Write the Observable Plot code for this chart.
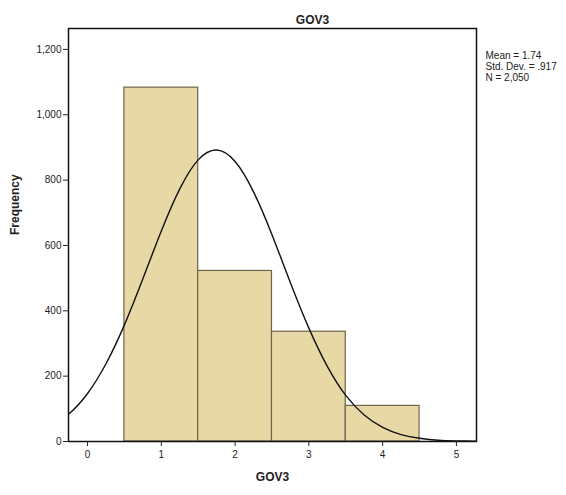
<!DOCTYPE html>
<html>
<head>
<meta charset="utf-8">
<script src="https://cdn.jsdelivr.net/npm/d3@7"></script>
<script src="https://cdn.jsdelivr.net/npm/@observablehq/plot@0.6"></script>
<style>
  html, body { margin: 0; padding: 0; background: #fff; }
  #chart { width: 566px; height: 495px; }
</style>
</head>
<body>
<div id="chart"></div>
<script>
// Histogram bins (centres) and frequencies
const binCenters = [1, 2, 3, 4];
const frequencies = [1083, 522, 336, 109];
const binWidth = 1;

// Normal curve
const curveX = [-0.5, -0.25, 0, 0.25, 0.5, 0.75, 1, 1.25, 1.5, 1.75, 2, 2.25, 2.5, 2.75, 3, 3.25, 3.5, 3.75, 4, 4.25, 4.5, 4.75, 5, 5.25, 5.5];
const curveY = [46, 85, 147, 238, 357, 498, 644, 773, 862, 892, 857, 764, 633, 486, 347, 230, 141, 81, 43, 21, 10, 4, 2, 1, 0];

const xTicks = [0, 1, 2, 3, 4, 5];
const yTicks = [0, 200, 400, 600, 800, 1000, 1200];

const title = "GOV3";
const xLabel = "GOV3";
const yLabel = "Frequency";
const statsLines = ["Mean = 1.74", "Std. Dev. = .917", "N = 2,050"];

const bars = binCenters.map((c, i) => ({x1: c - binWidth / 2, x2: c + binWidth / 2, y: frequencies[i]}));
const curve = curveX.map((x, i) => ({x, y: curveY[i]}));

const font = "'Liberation Sans', Arial, sans-serif";

const chart = Plot.plot({
  width: 566,
  height: 495,
  marginLeft: 68,
  marginRight: 90,
  marginTop: 28,
  marginBottom: 54,
  style: {fontFamily: font, fontSize: "10px", color: "#222", background: "#fff"},
  x: {domain: [-0.258, 5.272], ticks: xTicks, tickSize: 5, tickFormat: d => d, label: null},
  y: {domain: [0, 1264], ticks: yTicks, tickSize: 5, tickFormat: d3.format(","), label: null},
  marks: [
    Plot.rectY(bars, {x1: "x1", x2: "x2", y1: 0, y2: "y", fill: "#e8d8a6", stroke: "#6e6448", strokeWidth: 1.2}),
    Plot.line(curve, {x: "x", y: "y", curve: "natural", stroke: "#111", strokeWidth: 1.4, clip: true}),
    Plot.frame({stroke: "#111", strokeWidth: 1.5}),
    Plot.axisX({ticks: xTicks, tickSize: 5, tickPadding: 4, tickFormat: d => d, label: null, fontSize: 10}),
    Plot.axisY({ticks: yTicks, tickSize: 5, tickPadding: 2, tickFormat: d3.format(","), label: null, fontSize: 10}),
    Plot.text([title], {frameAnchor: "top", dx: 40, dy: -13, fontWeight: "bold", fontSize: 12, text: d => d}),
    Plot.text([xLabel], {frameAnchor: "bottom", dy: 39, fontWeight: "bold", fontSize: 12, text: d => d}),
    Plot.text([yLabel], {frameAnchor: "left", dx: -53, rotate: -90, fontWeight: "bold", fontSize: 12, text: d => d}),
    Plot.text([statsLines.join("\n")], {frameAnchor: "top-right", dx: 9, dy: 23, textAnchor: "start", lineAnchor: "top", lineHeight: 1.1, fontSize: 10, text: d => d})
  ]
});
document.getElementById("chart").appendChild(chart);
</script>
</body>
</html>
